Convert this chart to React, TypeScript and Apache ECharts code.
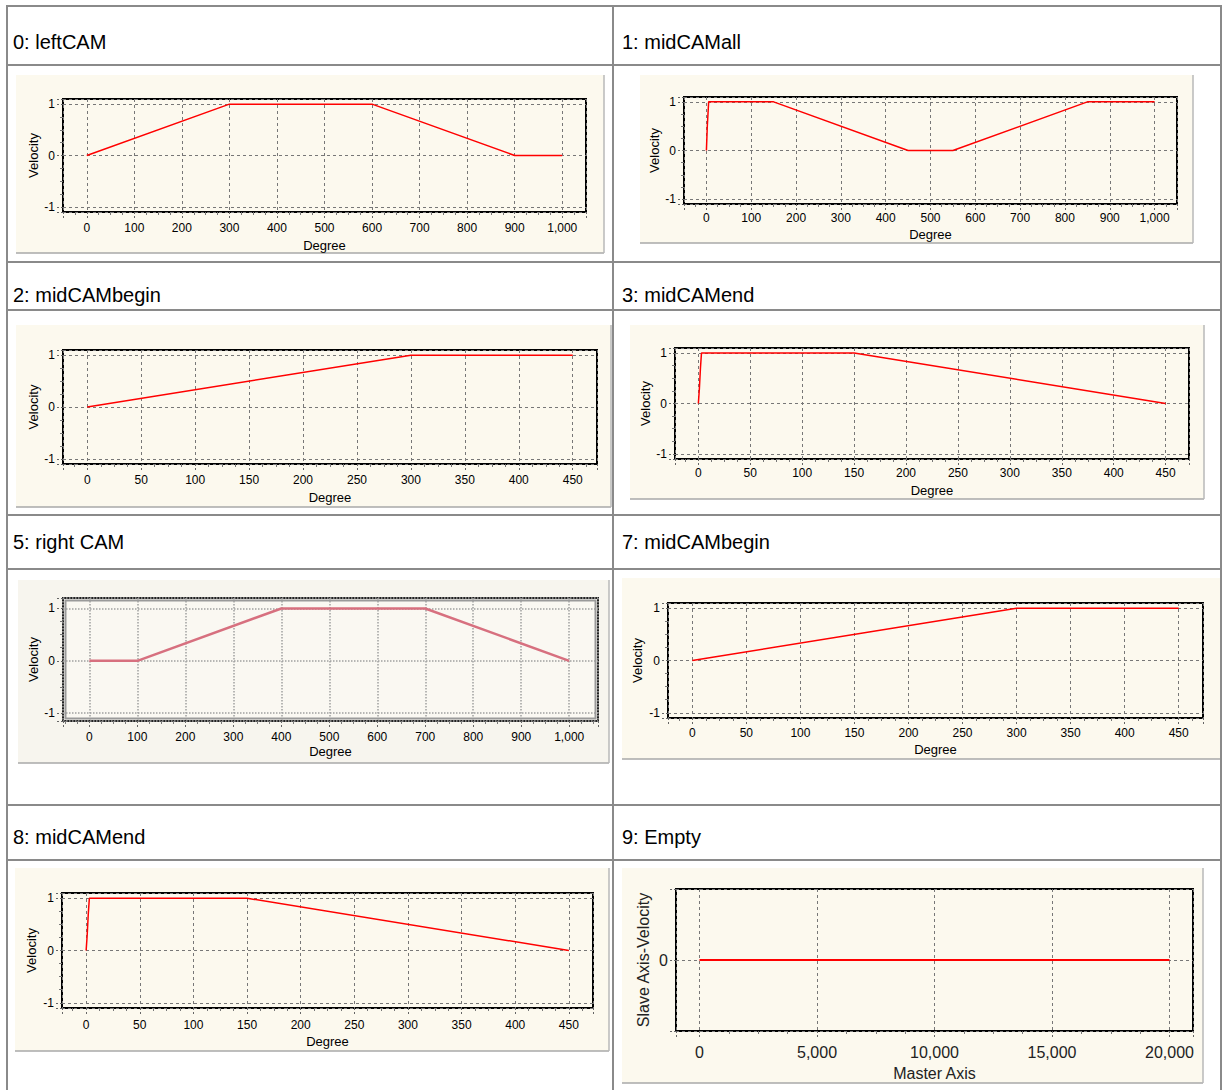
import React, { useEffect, useRef } from 'react';
import * as echarts from 'echarts';

// ---------- data ----------
const titles = ['0: leftCAM', '1: midCAMall', '2: midCAMbegin', '3: midCAMend', '5: right CAM', '7: midCAMbegin', '8: midCAMend', '9: Empty'];

const leftCamX = [0, 300, 600, 900, 1000];
const leftCamY = [0, 1, 1, 0, 0];
const midAllX = [0, 2, 5, 150, 450, 550, 850, 1000];
const midAllY = [0, 0.5, 1, 1, 0, 0, 1, 1];
const midBeginX = [0, 300, 450];
const midBeginY = [0, 1, 1];
const midEndX = [0, 1, 2, 3, 150, 450];
const midEndY = [0, 0.3, 0.7, 1, 1, 0];
const rightCamX = [0, 100, 400, 700, 1000];
const rightCamY = [0, 0, 1, 1, 0];
const emptyX = [0, 20000];
const emptyY = [0, 0];

const seriesX = [leftCamX, midAllX, midBeginX, midEndX, rightCamX, midBeginX, midEndX, emptyX];
const seriesY = [leftCamY, midAllY, midBeginY, midEndY, rightCamY, midBeginY, midEndY, emptyY];

const xNames = ['Degree', 'Degree', 'Degree', 'Degree', 'Degree', 'Degree', 'Degree', 'Master Axis'];
const yNames = ['Velocity', 'Velocity', 'Velocity', 'Velocity', 'Velocity', 'Velocity', 'Velocity', 'Slave Axis-Velocity'];
const xMaxTick = [1000, 1000, 450, 450, 1000, 450, 450, 20000];
const yMaxTick = [1, 1, 1, 1, 1, 1, 1, 0];

// ---------- layout ----------
const FONT = '"Liberation Sans", Arial, sans-serif';
const CREAM = '#FCF9EE';

const LAYOUT = [
  { panel: [16, 75, 588, 178], grid: [63, 99, 523, 113], xr: [-50, 1050], xs: 11, yr: [-1.1, 1.1], lm: 10, ng: 27, yg: 23 },
  { panel: [640, 75, 553, 168], grid: [684, 97, 493, 107], xr: [-50, 1050], xs: 11, yr: [-1.1, 1.1], lm: 8, ng: 24, yg: 22 },
  { panel: [16, 325, 595, 182], grid: [63, 350, 534, 114], xr: [-22.5, 472.5], xs: 10, yr: [-1.1, 1.1], lm: 10, ng: 27, yg: 23 },
  { panel: [630, 325, 574, 174], grid: [675, 348, 514, 111], xr: [-22.5, 472.5], xs: 10, yr: [-1.1, 1.1], lm: 8, ng: 25, yg: 23 },
  { panel: [18, 580, 591, 183], grid: [63, 598, 535, 123], xr: [-55, 1060], xs: 11, yr: [-1.15, 1.2], lm: 10, ng: 24, yg: 23 },
  { panel: [622, 578, 599, 181], grid: [668, 603, 535, 115], xr: [-22.5, 472.5], xs: 10, yr: [-1.1, 1.1], lm: 9, ng: 25, yg: 24 },
  { panel: [15, 868, 594, 183], grid: [62, 893, 531, 115], xr: [-22.5, 472.5], xs: 10, yr: [-1.1, 1.1], lm: 11, ng: 27, yg: 24 },
  { panel: [622, 868, 581, 215], grid: [676, 889, 517, 142], xr: [-1000, 21000], xs: 4, yr: [-1, 1], lm: 13, ng: 34, yg: 25 },
];

const TITLE_POS = [
  [13, 42], [622, 42], [13, 295], [622, 295], [13, 542], [622, 542], [13, 837], [622, 837],
];
const H_LINES = [6, 65, 262, 310, 515, 569, 805, 860];
const V_LINES = [7, 613, 1221];

const fmtX = (max: number) => (v: number) =>
  v < -1e-6 || v > max + 1e-6 ? '' : Math.round(v).toLocaleString('en-US');
const fmtY = (max: number) => (v: number) => {
  if (Math.abs(v) > max + 1e-4) return '';
  if (Math.abs(v) < 1e-9) return '0';
  return String(Math.round(v));
};

function buildOption() {
  const grid: any[] = [];
  const xAxis: any[] = [];
  const yAxis: any[] = [];
  const series: any[] = [];
  const graphic: any[] = [];

  LAYOUT.forEach((L, i) => {
    const special = i === 4;
    const big = i === 7;
    const tickFont = big ? 16 : 12;
    const nameFont = big ? 16 : 13;
    const textColor = big ? '#222' : '#000';
    grid.push({
      left: L.grid[0], top: L.grid[1], width: L.grid[2], height: L.grid[3],
      show: true, borderColor: special ? '#222' : '#000', borderWidth: 2,
      backgroundColor: special ? '#FAF8F2' : CREAM,
      containLabel: false, outerBoundsMode: 'none',
    });
    const split = special
      ? { show: true, lineStyle: { color: '#a0a0a0', type: 'dotted', width: 1.5 } }
      : { show: true, lineStyle: { color: '#777777', type: [3, 3], width: 1 } };
    xAxis.push({
      gridIndex: i, type: 'value', min: L.xr[0], max: L.xr[1], splitNumber: L.xs,
      name: xNames[i], nameLocation: 'middle', nameGap: L.ng,
      nameTextStyle: { fontSize: nameFont, fontFamily: FONT, color: textColor },
      axisLine: { show: false, onZero: false },
      axisTick: { show: true, length: 6, lineStyle: { color: '#666', type: [2, 2] } },
      minorTick: { show: true, splitNumber: 4, length: 3, lineStyle: { color: '#777' } },
      axisLabel: { margin: L.lm, fontSize: tickFont, fontFamily: FONT, color: textColor, formatter: fmtX(xMaxTick[i]) },
      splitLine: split,
    });
    yAxis.push({
      gridIndex: i, type: 'value', min: L.yr[0], max: L.yr[1],
      ...(big ? { interval: 1 } : { splitNumber: 2 }),
      name: yNames[i], nameLocation: 'middle', nameGap: L.yg,
      nameTextStyle: { fontSize: nameFont, fontFamily: FONT, color: textColor },
      axisLine: { show: false, onZero: false },
      axisTick: { show: true, length: 6, lineStyle: { color: '#666', type: [2, 2] } },
      minorTick: { show: !big, splitNumber: 4, length: 3, lineStyle: { color: '#777' } },
      axisLabel: { margin: 8, fontSize: tickFont, fontFamily: FONT, color: textColor, formatter: fmtY(yMaxTick[i]) },
      splitLine: split,
    });
    series.push({
      type: 'line', xAxisIndex: i, yAxisIndex: i,
      data: seriesX[i].map((x, k) => [x, seriesY[i][k]]),
      symbol: 'none', silent: true, z: 5,
      lineStyle: special ? { color: '#D7707F', width: 2.5 } : { color: '#FF0000', width: big ? 2 : 1.5 },
    });

    // panel background
    const [px, py, pw, ph] = L.panel;
    graphic.push({ type: 'rect', z: -10, silent: true, shape: { x: px, y: py, width: pw, height: ph }, style: { fill: special ? '#F7F5EE' : CREAM } });
    graphic.push({ type: 'line', z: -9, silent: true, shape: { x1: px, y1: py + ph, x2: px + pw, y2: py + ph }, style: { stroke: '#a8a8a8', lineWidth: 1.5 } });
    graphic.push({ type: 'line', z: -9, silent: true, shape: { x1: px + pw, y1: py, x2: px + pw, y2: py + ph }, style: { stroke: '#b8b8b8', lineWidth: 1.5 } });
    if (special) {
      const [gx, gy, gw, gh] = L.grid;
      graphic.push({ type: 'rect', z: 50, silent: true, shape: { x: gx + 2.5, y: gy + 2.5, width: gw - 5, height: gh - 5 }, style: { fill: 'none', stroke: '#9a9a9a', lineWidth: 2 } });
    }
  });

  // table lines
  H_LINES.forEach((y) => {
    graphic.push({ type: 'line', z: 60, silent: true, shape: { x1: 6, y1: y, x2: 1222, y2: y }, style: { stroke: '#8a8a8a', lineWidth: 2 } });
  });
  V_LINES.forEach((x) => {
    graphic.push({ type: 'line', z: 60, silent: true, shape: { x1: x, y1: 5, x2: x, y2: 1090 }, style: { stroke: '#8a8a8a', lineWidth: 2 } });
  });
  // titles
  titles.forEach((t, i) => {
    graphic.push({
      type: 'text', z: 70, silent: true, x: TITLE_POS[i][0], y: TITLE_POS[i][1],
      style: { text: t, font: `20px ${FONT}`, fill: '#000', verticalAlign: 'middle', align: 'left' },
    });
  });

  return { animation: false, backgroundColor: '#ffffff', grid, xAxis, yAxis, series, graphic };
}

export default function App() {
  const ref = useRef<HTMLDivElement>(null);
  useEffect(() => {
    if (!ref.current) return;
    const chart = echarts.init(ref.current, null, { renderer: 'svg' });
    chart.setOption(buildOption() as any);
    return () => chart.dispose();
  }, []);
  return (
    <div
      ref={ref}
      style={{ position: 'absolute', left: 0, top: 0, width: 1223, height: 1090, background: '#fff' }}
    />
  );
}
